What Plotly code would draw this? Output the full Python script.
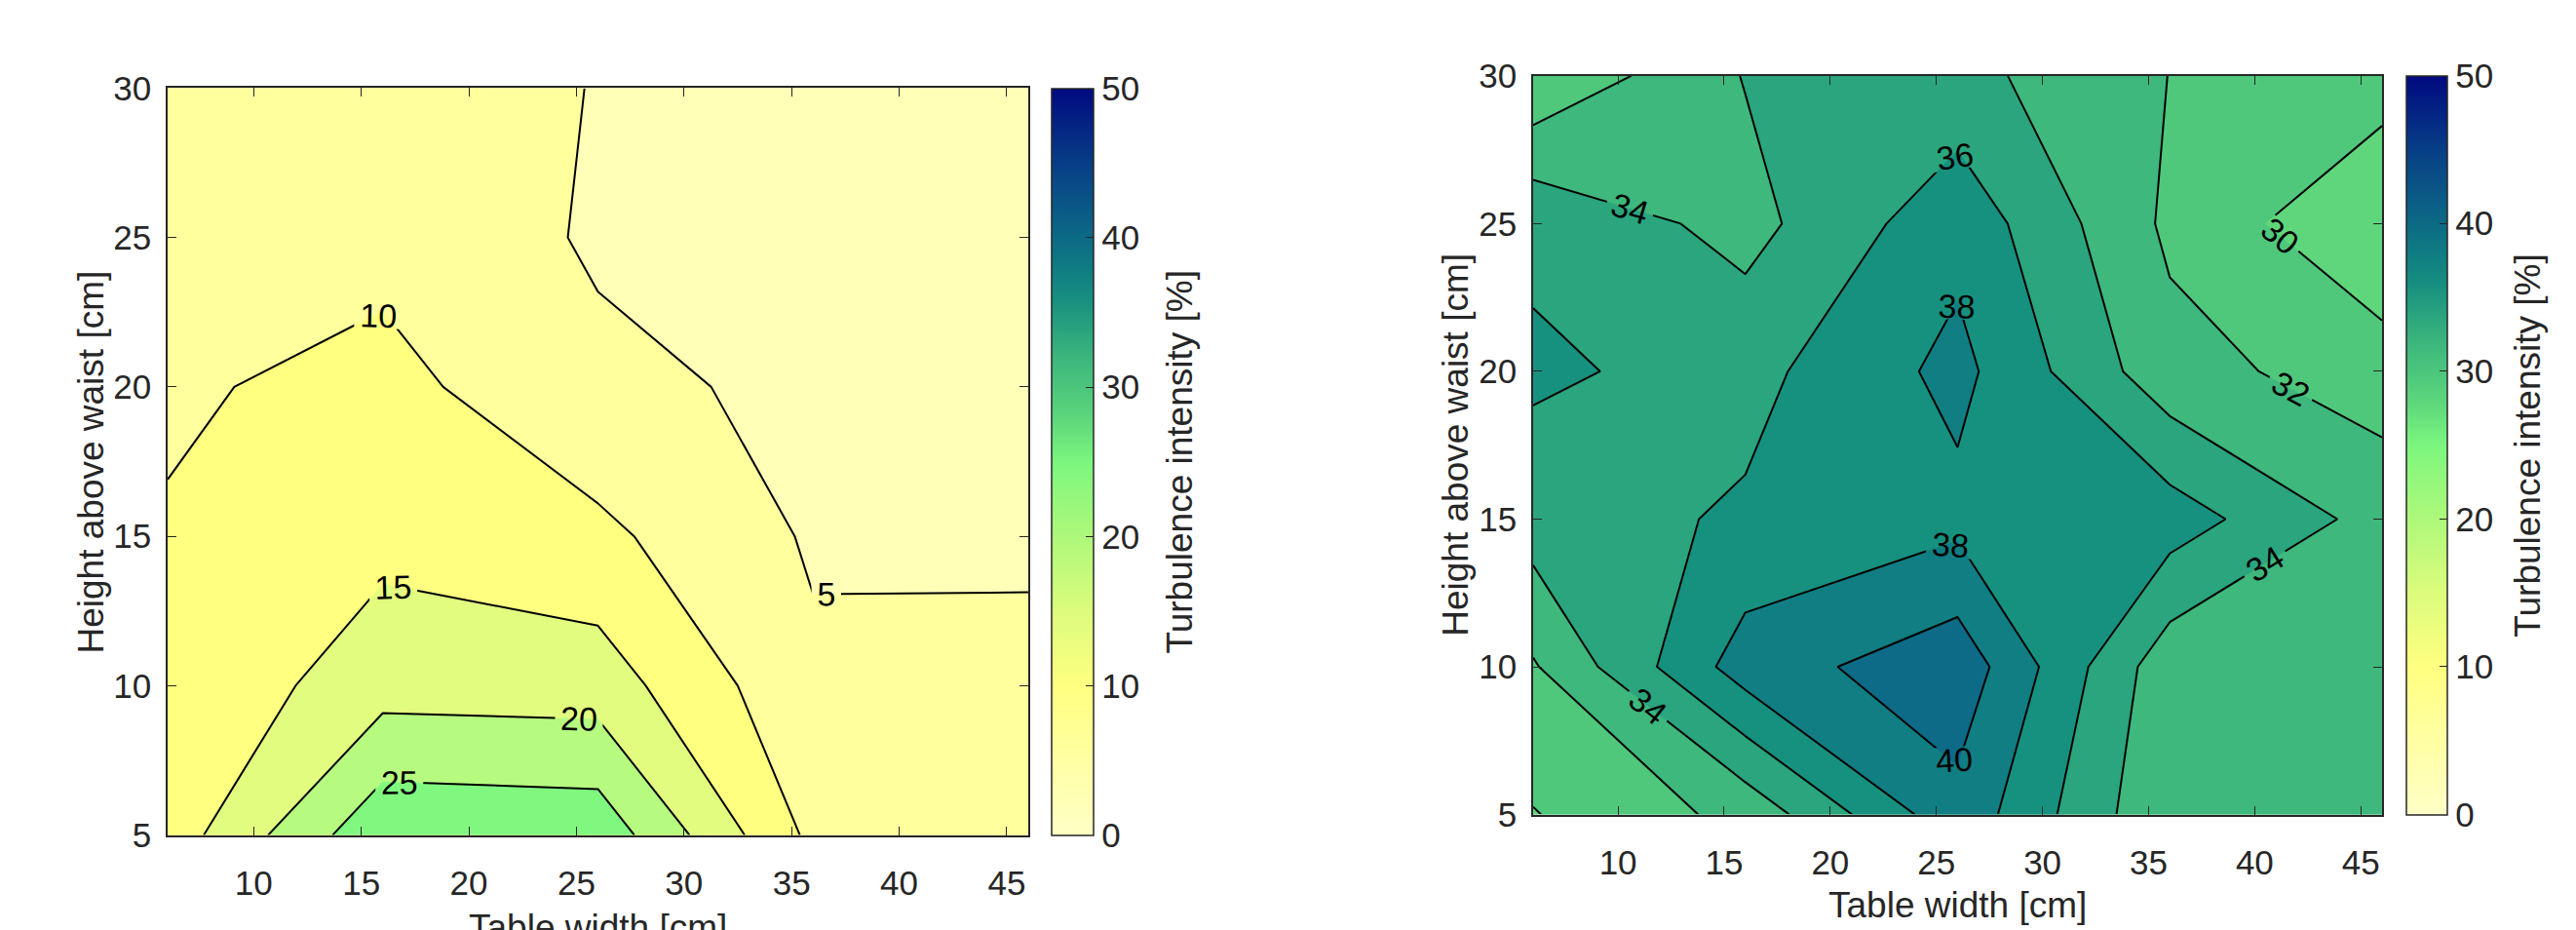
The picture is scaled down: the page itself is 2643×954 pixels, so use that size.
import plotly.graph_objects as go

# ---------------- data ----------------
table_width = [6, 16, 26, 36, 46]          # cm (x grid)
height_waist = [5, 10, 15, 20, 25, 30]     # cm (y grid)

# left panel: turbulence intensity [%], rows = heights, cols = widths
ti_left = [
    [12.2, 28.9, 28.3, 8.8, 7.0],
    [10.6, 18.0, 17.6, 5.9, 6.0],
    [10.43, 13.6, 11.13, 4.43, 4.4],
    [9.3, 11.56, 6.0, 4.1, 3.5],
    [7.5, 8.5, 4.43, 3.8, 3.2],
    [7.0, 8.0, 4.8, 4.0, 3.5],
]

# right panel
ti_right = [
    [29.9, 32.6, 39.36, 32.2, 33.0],
    [31.8, 39.0, 41.3, 32.7, 33.0],
    [35.0, 36.28, 37.44, 37.0, 33.2],
    [36.3, 35.35, 38.59, 32.7, 31.03],
    [35.6, 33.3, 37.36, 31.6, 28.04],
    [30.2, 34.1, 34.63, 31.97, 31.0],
]

levels_left = dict(start=5, end=25, size=5)
levels_right = dict(start=30, end=40, size=2)

x_ticks = [10, 15, 20, 25, 30, 35, 40, 45]
y_ticks = [5, 10, 15, 20, 25, 30]
cbar_ticks = [0, 10, 20, 30, 40, 50]

# band fill colours (lowest band first)
bands_left = ["#ffffb8", "#ffff9e", "#ffff80", "#e2fc80", "#b6fa80", "#80f880"]
bands_right = ["#5fd67c", "#4fc87c", "#3eb87c", "#2aa57e", "#17917f", "#107e83", "#0d6b87"]

# continuous colormap for the colour bar (value 0..50)
cmap = [
    [0.00, "#ffffc6"], [0.10, "#ffffa4"], [0.20, "#ffff80"], [0.30, "#dcfc7c"],
    [0.40, "#aef87a"], [0.50, "#7cf67e"], [0.56, "#5cd67c"], [0.60, "#4cc67c"],
    [0.64, "#3cb67c"], [0.68, "#28a27e"], [0.72, "#168e80"], [0.76, "#0f7c82"],
    [0.80, "#0c6a85"], [0.90, "#073e86"], [1.00, "#000a80"],
]

W, H = 2643, 954
FONT = "Liberation Sans, Arial, sans-serif"
TXT = "#262626"


def band_scale(colors):
    n = len(colors) - 1
    return [[i / n, c] for i, c in enumerate(colors)]


# panel geometry in pixels
L = dict(x0=164, x1=1047, y0=65, y1=864, cb0=1071, cb1=1114)
R = dict(x0=1565, x1=2436, y0=52, y1=842, cb0=2461, cb1=2503)


def px_x(p):
    return p / W


def px_y(p):
    return (H - p) / H


fig = go.Figure()

for i, (z, lev, bands, P) in enumerate([
        (ti_left, levels_left, bands_left, L),
        (ti_right, levels_right, bands_right, R)]):
    xa = "x" if i == 0 else "x2"
    ya = "y" if i == 0 else "y2"
    fig.add_trace(go.Heatmap(
        x=table_width, y=height_waist, z=z, xaxis=xa, yaxis=ya,
        zmin=0, zmax=50, colorscale=cmap, showscale=True, hoverinfo="skip",
        colorbar=dict(
            x=px_x(P["cb0"]), xanchor="left", xpad=0,
            y=px_y(P["y1"]), yanchor="bottom", ypad=0,
            len=(P["y1"] - P["y0"]) / H, lenmode="fraction",
            thickness=P["cb1"] - P["cb0"], thicknessmode="pixels",
            outlinewidth=1.5, outlinecolor=TXT,
            tickvals=cbar_ticks, ticks="inside", ticklen=8, tickcolor=TXT,
            tickfont=dict(family=FONT, size=35, color=TXT),
        ),
    ))
    fig.add_trace(go.Contour(
        x=table_width, y=height_waist, z=z, xaxis=xa, yaxis=ya,
        autocontour=False, contours=dict(
            start=lev["start"], end=lev["end"], size=lev["size"],
            coloring="fill", showlabels=True,
            labelfont=dict(family=FONT, size=34, color="black"),
        ),
        colorscale=band_scale(bands), showscale=False,
        line=dict(color="black", width=2, smoothing=0),
    ))

axis_common = dict(
    showline=True, linecolor=TXT, linewidth=1.5, mirror="ticks",
    ticks="inside", ticklen=9, tickwidth=1.2, tickcolor=TXT,
    tickfont=dict(family=FONT, size=35, color=TXT),
    showgrid=False, zeroline=False,
)

fig.update_layout(
    width=W, height=H, margin=dict(l=0, r=0, t=0, b=0),
    paper_bgcolor="white", plot_bgcolor="white", showlegend=False,
    xaxis=dict(domain=[px_x(L["x0"]), px_x(L["x1"])], range=[6, 46],
               tickvals=x_ticks, anchor="y", ticklabelstandoff=18, **axis_common),
    yaxis=dict(domain=[px_y(L["y1"]), px_y(L["y0"])], range=[5, 30],
               tickvals=y_ticks, anchor="x", ticklabelstandoff=8, **axis_common),
    xaxis2=dict(domain=[px_x(R["x0"]), px_x(R["x1"])], range=[6, 46],
                tickvals=x_ticks, anchor="y2", ticklabelstandoff=18, **axis_common),
    yaxis2=dict(domain=[px_y(R["y1"]), px_y(R["y0"])], range=[5, 30],
                tickvals=y_ticks, anchor="x2", ticklabelstandoff=8, **axis_common),
)

title_font = dict(family=FONT, size=37, color=TXT)
ann = []
for P, xt_top in [(L, 939), (R, 915)]:
    cx = (P["x0"] + P["x1"]) / 2
    cy = (P["y0"] + P["y1"]) / 2
    ann.append(dict(text="Table width [cm]", x=px_x(cx), y=px_y(xt_top),
                    xref="paper", yref="paper", xanchor="center", yanchor="top",
                    showarrow=False, font=title_font))
    ycx = 86 if P is L else 1486
    ann.append(dict(text="Height above waist [cm]", x=px_x(ycx), y=px_y(cy),
                    xref="paper", yref="paper", xanchor="center", yanchor="middle",
                    textangle=-90, showarrow=False, font=title_font))
    cbx = 1203 if P is L else 2586
    ann.append(dict(text="Turbulence intensity [%]", x=px_x(cbx), y=px_y(cy),
                    xref="paper", yref="paper", xanchor="center", yanchor="middle",
                    textangle=-90, showarrow=False, font=title_font))
fig.update_layout(annotations=ann)

fig.write_html("out.html")
